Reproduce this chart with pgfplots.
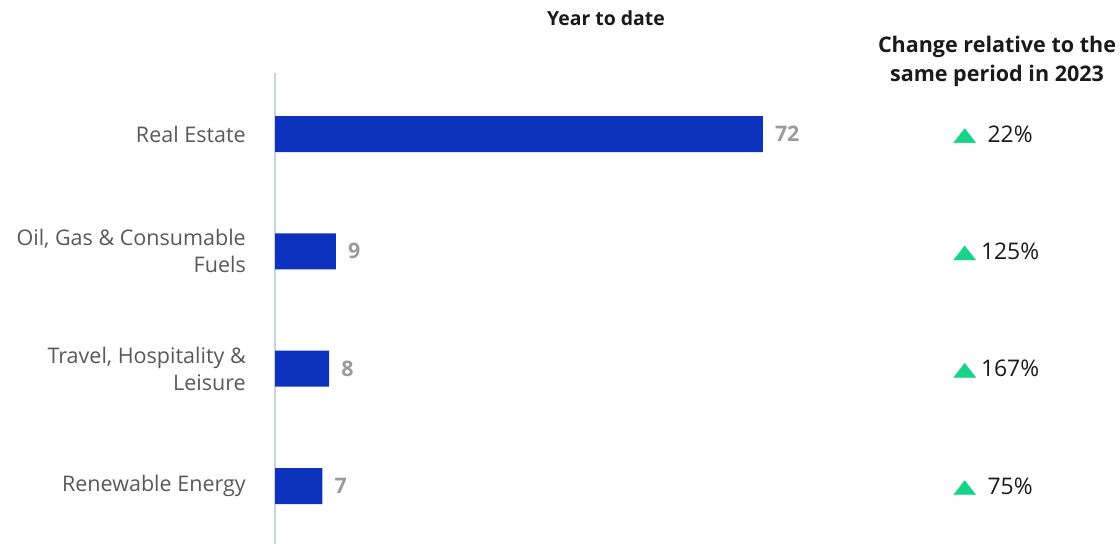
\documentclass[border=0pt]{standalone}
\usepackage{fontspec}
\setmainfont{Open Sans}
\usepackage{pgfplots}
\pgfplotsset{compat=1.18}
\definecolor{barblue}{HTML}{0C32BE}
\definecolor{valgray}{HTML}{9B9B9B}
\definecolor{catgray}{HTML}{595959}
\definecolor{axisline}{HTML}{C8D2E4}
\definecolor{upgreen}{HTML}{18D38A}
\definecolor{txt}{HTML}{1A1A1A}
\begin{document}
\begin{tikzpicture}[x=1bp,y=1bp]
\path[use as bounding box] (0,0) rectangle (1120,544);
\node[font=\fontsize{19.5}{22}\selectfont\bfseries, text=txt] at (606,526) {Year to date};
\node[font=\fontsize{21.6}{29}\selectfont\bfseries, text=txt, align=center] at (997,483) {Change relative to the\\same period in 2023};
\begin{axis}[
 at={(275bp,0bp)}, anchor=south west, scale only axis,
 width=542bp, height=471bp,
 xmin=0, xmax=80, ymin=-0.52, ymax=3.494, y dir=reverse,
 axis x line=none, axis y line*=left,
 y axis line style={draw=axisline, line width=1.5bp, -},
 ytick={0,1,2,3},
 yticklabels={Real Estate, {Oil, Gas \& Consumable\\Fuels}, {Travel, Hospitality \&\\Leisure}, Renewable Energy},
 major tick length=0pt, ytick style={draw=none},
 yticklabel style={font=\fontsize{21.6}{27}\selectfont, text=catgray, align=right, anchor=east, inner sep=0pt, xshift=-29bp},
 clip=false,
 /pgf/number format/assume math mode=true,
]
\addplot[xbar, bar width=36bp, fill=barblue, draw=none, point meta=x, nodes near coords,
  nodes near coords style={font=\fontsize{21.5}{24}\selectfont\bfseries, text=valgray, anchor=west, inner sep=0pt, xshift=12bp}]
  coordinates {(72,0) (9,1) (8,2) (7,3)};
\addplot[only marks, mark=triangle*, mark size=12.7bp, color=upgreen, mark options={fill=upgreen, draw=upgreen, yscale=0.74}]
  coordinates {(101.8,0.034) (101.8,1.034) (101.8,2.034) (101.8,3.034)};
\addplot[only marks, mark=none, point meta=explicit symbolic, nodes near coords,
  nodes near coords style={font=\fontsize{23}{26}\selectfont, text=txt, anchor=center, inner sep=0pt}]
  coordinates {(108.5,0) [22\%] (108.5,1) [125\%] (108.5,2) [167\%] (108.5,3) [75\%]};
\end{axis}
\end{tikzpicture}
\end{document}
